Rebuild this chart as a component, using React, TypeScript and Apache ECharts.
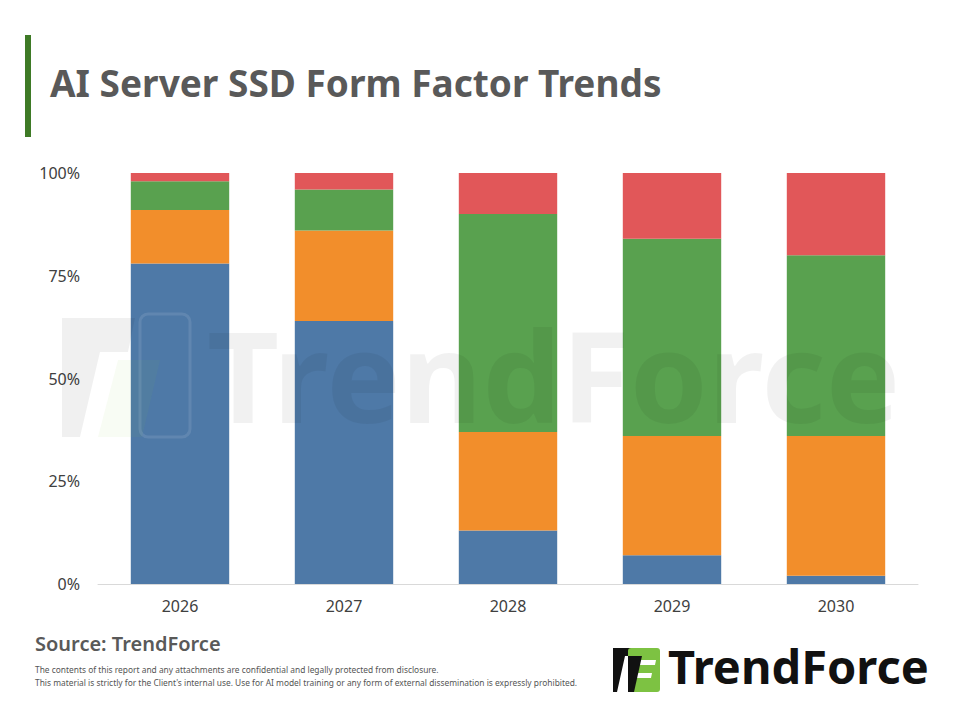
import React, { useEffect, useRef } from "react";
import * as echarts from "echarts";

const categories = ["2026", "2027", "2028", "2029", "2030"];
const seriesBlue = [78, 64, 13, 7, 2];
const seriesOrange = [13, 22, 24, 29, 34];
const seriesGreen = [7, 10, 53, 48, 44];
const seriesRed = [2, 4, 10, 16, 20];
const yTicks = [0, 25, 50, 75, 100];

const colors = ["#4E79A7", "#F28E2B", "#59A14F", "#E15759"];
const FONT = "'Noto Sans', 'Open Sans', sans-serif";

export default function App() {
  const ref = useRef<HTMLDivElement>(null);
  useEffect(() => {
    if (!ref.current) return;
    const chart = echarts.init(ref.current, undefined, { renderer: "svg" });
    const mk = (name: string, data: number[], i: number) => ({
      name,
      type: "bar",
      stack: "total",
      data,
      barWidth: "60%",
      itemStyle: { color: colors[i] },
    });
    const W = 100;
    chart.setOption({
      animation: false,
      backgroundColor: "#ffffff",
      grid: { left: 98, right: 42, top: 173, bottom: 136 },
      xAxis: {
        type: "category",
        data: categories,
        axisLine: { lineStyle: { color: "#d9d9d9", width: 1 } },
        axisTick: { show: false },
        axisLabel: { color: "#404040", fontSize: 16, margin: 14, fontFamily: FONT },
      },
      yAxis: {
        type: "value",
        min: yTicks[0],
        max: yTicks[yTicks.length - 1],
        interval: 25,
        splitLine: { show: false },
        axisLine: { show: false },
        axisTick: { show: false },
        axisLabel: {
          color: "#404040",
          fontSize: 16,
          margin: 18,
          fontFamily: FONT,
          formatter: "{value}%",
        },
      },
      series: [
        mk("Blue", seriesBlue, 0),
        mk("Orange", seriesOrange, 1),
        mk("Green", seriesGreen, 2),
        mk("Red", seriesRed, 3),
      ],
      graphic: [
        { type: "rect", shape: { x: 25, y: 35, width: 6, height: 102 }, style: { fill: "#3E7A26" } },
        {
          type: "text",
          x: 50,
          y: 64,
          style: { text: "AI Server SSD Form Factor Trends", font: `bold 37px ${FONT}`, fill: "#595959" },
        },
        // watermark
        { type: "polygon", z: W, shape: { points: [[62, 318], [135, 318], [128, 352], [100, 352], [80, 437], [62, 437]] }, style: { fill: "rgba(0,0,0,0.06)" } },
        { type: "polygon", z: W, shape: { points: [[118, 360], [160, 360], [142, 437], [98, 437]] }, style: { fill: "rgba(140,198,63,0.06)" } },
        { type: "rect", z: W, shape: { x: 140, y: 314, width: 50, height: 123, r: 8 }, style: { fill: "none", stroke: "rgba(255,255,255,0.1)", lineWidth: 3 } },
        {
          type: "text",
          z: W,
          x: 207,
          y: 312,
          style: { text: "TrendForce", font: `bold 125px ${FONT}`, fill: "rgba(0,0,0,0.055)" },
        },
        {
          type: "text",
          x: 35,
          y: 633,
          style: { text: "Source: TrendForce", font: `600 20px ${FONT}`, fill: "#595959" },
        },
        {
          type: "text",
          x: 35,
          y: 665,
          style: {
            text: "The contents of this report and any attachments are confidential and legally protected from disclosure.",
            font: `8.4px ${FONT}`,
            fill: "#555555",
          },
        },
        {
          type: "text",
          x: 35,
          y: 678,
          style: {
            text: "This material is strictly for the Client's internal use. Use for AI model training or any form of external dissemination is expressly prohibited.",
            font: `8.4px ${FONT}`,
            fill: "#555555",
          },
        },
        // logo
        { type: "polygon", shape: { points: [[613, 648], [642, 648], [640, 656], [625, 656], [617, 692], [613, 692]] }, style: { fill: "#111111" } },
        { type: "rect", shape: { x: 628, y: 648, width: 32, height: 44, r: 3 }, style: { fill: "#7DC242" } },
        { type: "polygon", shape: { points: [[636, 660], [656, 660], [655, 665], [635, 665]] }, style: { fill: "#ffffff" } },
        { type: "polygon", shape: { points: [[633, 673], [652, 673], [651, 678], [632, 678]] }, style: { fill: "#ffffff" } },
        { type: "polygon", shape: { points: [[628, 656], [642, 656], [634, 692], [628, 692]] }, style: { fill: "#111111" } },
        {
          type: "text",
          x: 668,
          y: 642,
          style: { text: "TrendForce", font: `bold 47px ${FONT}`, fill: "#111111" },
        },
      ],
    });
    return () => chart.dispose();
  }, []);
  return <div ref={ref} style={{ position: "absolute", left: 0, top: 0, width: 960, height: 720 }} />;
}
